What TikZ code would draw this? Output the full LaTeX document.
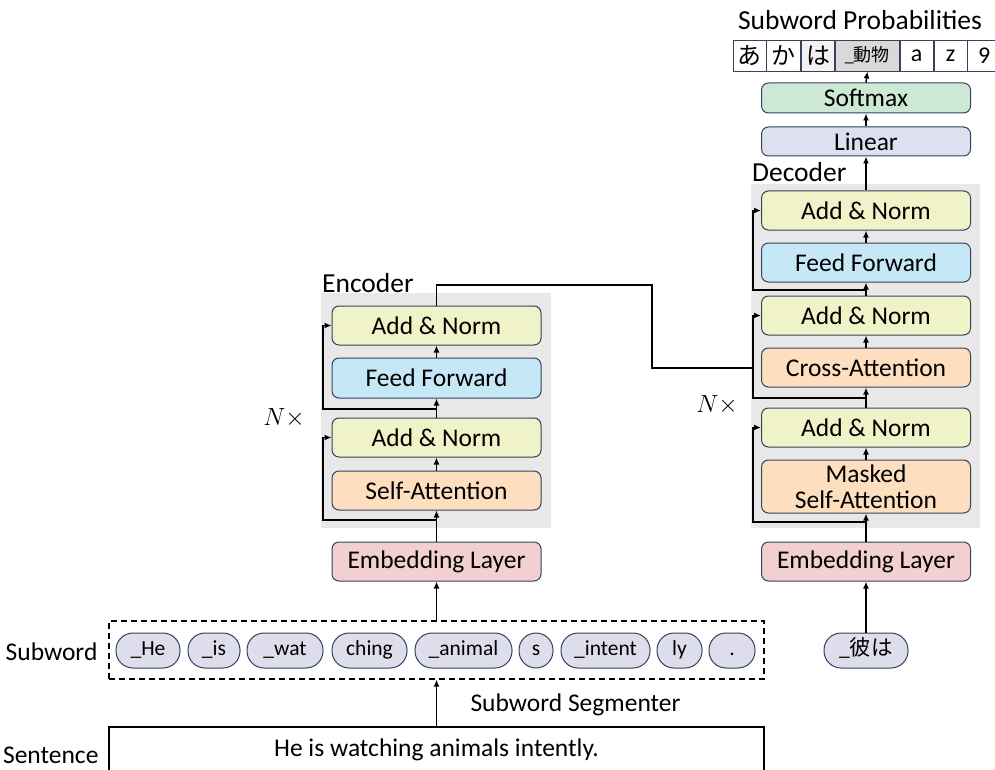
\documentclass[tikz,border=0pt]{standalone}
\usepackage{fontspec}
\setmainfont{Carlito}
\newfontfamily\jpfont{Noto Sans CJK JP}
\usetikzlibrary{arrows.meta}
\definecolor{bord}{HTML}{34425C}
\definecolor{grayzone}{HTML}{E8E8E8}
\definecolor{addnorm}{HTML}{F0F3C8}
\definecolor{ffwd}{HTML}{C6E7F5}
\definecolor{attn}{HTML}{FDDFBF}
\definecolor{smax}{HTML}{CDE8D5}
\definecolor{lin}{HTML}{DCE0EF}
\definecolor{emb}{HTML}{F2D0D0}
\definecolor{pill}{HTML}{DDDDEB}
\definecolor{cellA}{HTML}{F2F2F2}
\definecolor{cellB}{HTML}{D9D9D9}
\tikzset{
  txt/.style={font=\fontsize{25.5}{28}\selectfont},
  ttl/.style={font=\fontsize{27.5}{30}\selectfont, inner sep=0pt},
  layer/.style={txt, draw=bord, line width=1pt, rounded corners=7pt,
    minimum width=209pt, inner sep=0pt, align=center},
  piece/.style={draw=bord, line width=1pt, fill=pill, rounded corners=17pt,
    minimum height=35pt, inner sep=0pt, text height=14pt, text depth=4pt,
    font=\fontsize{21.5}{24}\selectfont},
  cell/.style={draw=bord, line width=0.8pt, minimum height=31pt, inner sep=0pt,
    font=\fontsize{24}{26}\selectfont},
  zone/.style={fill=grayzone, draw=none},
  conn/.style={line width=1.5pt},
  arr/.style={conn, -{Latex[length=7pt,width=6pt]}},
}
\begin{document}
\begin{tikzpicture}[x=1pt,y=-1pt]
\useasboundingbox (0,0) rectangle (995,770);

% ---------- stacks' gray backgrounds ----------
\fill[zone] (321,293) rectangle (551,528);
\fill[zone] (751,184) rectangle (980,528);

% ---------- encoder ----------
\node[ttl, anchor=west] (enclbl) at (322,283) {Encoder};
\node[layer, fill=addnorm, minimum height=39pt] (ean2) at (436.5,325.5) {Add \& Norm};
\node[layer, fill=ffwd,    minimum height=40pt] (eff)  at (436.5,378)   {Feed Forward};
\node[layer, fill=addnorm, minimum height=39pt] (ean1) at (436.5,437.5) {Add \& Norm};
\node[layer, fill=attn,    minimum height=39pt] (esa)  at (436.5,490.5) {Self-Attention};
\node[layer, fill=emb,     minimum height=39pt] (eemb) at (436.5,561.5) {Embedding Layer};
\node[font=\fontsize{27}{29}\selectfont] (encN) at (284,418) {$N\times$};

% ---------- decoder ----------
\node[ttl, anchor=west] (declbl) at (752,172) {Decoder};
\node[layer, fill=addnorm, minimum height=39pt] (dan3) at (866,210.5) {Add \& Norm};
\node[layer, fill=ffwd,    minimum height=39pt] (dff)  at (866,262.5) {Feed Forward};
\node[layer, fill=addnorm, minimum height=39pt] (dan2) at (866,315.5) {Add \& Norm};
\node[layer, fill=attn,    minimum height=39pt] (dca)  at (866,367.5) {Cross-Attention};
\node[layer, fill=addnorm, minimum height=39pt] (dan1) at (866,427.5) {Add \& Norm};
\node[layer, fill=attn,    minimum height=53pt, font=\fontsize{25.5}{26}\selectfont] (dmsa) at (866,486.5) {Masked\\Self-Attention};
\node[layer, fill=emb,     minimum height=39pt] (demb) at (866,561.5) {Embedding Layer};
\node[layer, fill=lin,     minimum height=29pt] (dlin) at (866,141.5) {Linear};
\node[layer, fill=smax,    minimum height=30pt] (dsm)  at (866,98)    {Softmax};
\node[font=\fontsize{27}{29}\selectfont] (decN) at (717,405) {$N\times$};

% ---------- output distribution ----------
\node[ttl] (problbl) at (860,20) {Subword Probabilities};
\node[cell, minimum width=33pt] (c1) at (749.5,55.5) {\jpfont あ};
\node[cell, minimum width=34pt, anchor=west] (c2) at (c1.east) {\jpfont か};
\node[cell, minimum width=33pt, anchor=west, fill=cellA] (c3) at (c2.east) {\jpfont は};
\node[cell, minimum width=64pt, anchor=west, fill=cellB, font=\fontsize{18}{20}\selectfont] (c4) at (c3.east) {\_\jpfont 動物};
\node[cell, minimum width=33pt, anchor=west] (c5) at (c4.east) {a};
\node[cell, minimum width=33pt, anchor=west] (c6) at (c5.east) {z};
\node[cell, minimum width=33pt, anchor=west] (c7) at (c6.east) {9};

% ---------- subword input ----------
\node[draw, dashed, line width=1.3pt, dash pattern=on 6pt off 4pt, minimum width=655pt, minimum height=58pt, inner sep=0pt] (segbox) at (436.5,650) {};
\node[txt, anchor=east] (swlbl) at (101,652) {Subword};
\node[piece, minimum width=64pt] (p1) at (148,650.5) {\_He};
\node[piece, minimum width=52pt] (p2) at (214,650.5) {\_is};
\node[piece, minimum width=76pt] (p3) at (285,650.5) {\_wat};
\node[piece, minimum width=75pt] (p4) at (369.5,650.5) {ching};
\node[piece, minimum width=97pt] (p5) at (463.5,650.5) {\_animal};
\node[piece, minimum width=34pt] (p6) at (536,650.5) {s};
\node[piece, minimum width=89pt] (p7) at (605.5,650.5) {\_intent};
\node[piece, minimum width=45pt] (p8) at (679.5,650.5) {ly};
\node[piece, minimum width=46pt] (p9) at (732,650.5) {.};
\node[piece, minimum width=84pt] (pj) at (866,650.5) {\_{\jpfont 彼は}};

% ---------- raw sentence ----------
\draw[conn] (109,772) -- (109,727) -- (764,727) -- (764,772);
\coordinate (senttop) at (436.5,727);
\node[txt] (sent) at (436.5,750) {He is watching animals intently.};
\node[txt, anchor=east] (sentlbl) at (102,755) {Sentence};
\node[txt, anchor=west] (seglbl) at (467,705) {Subword Segmenter};

% ---------- encoder flow ----------
\draw[arr] (senttop) -- (senttop |- segbox.south);
\draw[arr] (segbox.north -| eemb) -- (eemb.south);
\draw[arr] (eemb.north) -- (esa.south);
\draw[arr] (esa.north) -- (ean1.south);
\draw[arr] (ean1.north) -- (eff.south);
\draw[arr] (eff.north) -- (ean2.south);
\coordinate (er1) at (436.5,520);
\coordinate (er2) at (436.5,409);
\draw[arr] (er1) -- (323,520) |- (ean1.west);
\draw[arr] (er2) -- (323,409) |- (ean2.west);

% ---------- encoder to cross-attention ----------
\coordinate (memory) at (753,368);
\draw[conn] (ean2.north) -- (436.5,285) -- (652,285) -- (652,368) -- (memory);

% ---------- decoder flow ----------
\draw[arr] (pj.north) -- (demb.south);
\draw[arr] (demb.north) -- (dmsa.south);
\draw[arr] (dmsa.north) -- (dan1.south);
\draw[arr] (dan1.north) -- (dca.south);
\draw[arr] (dca.north) -- (dan2.south);
\draw[arr] (dan2.north) -- (dff.south);
\draw[arr] (dff.north) -- (dan3.south);
\draw[arr] (dan3.north) -- (dlin.south);
\draw[arr] (dlin.north) -- (dsm.south);
\draw[arr] (dsm.north) -- (c4.south);
\coordinate (dr1) at (866,522);
\coordinate (dr2) at (866,398);
\coordinate (dr3) at (866,290);
\draw[arr] (dr1) -- (753,522) |- (dan1.west);
\draw[arr] (dr2) -- (753,398) |- (dan2.west);
\draw[arr] (dr3) -- (753,290) |- (dan3.west);
\end{tikzpicture}
\end{document}
